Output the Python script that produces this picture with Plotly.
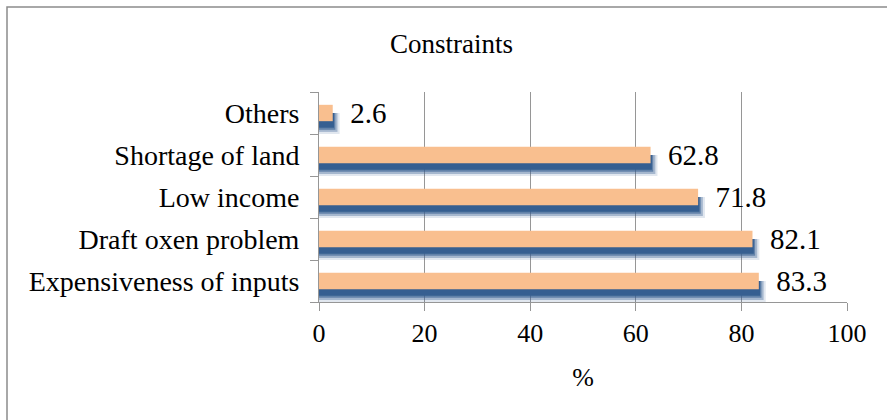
import plotly.graph_objects as go

categories = ["Expensiveness of inputs", "Draft oxen problem", "Low income", "Shortage of land", "Others"]
values = [83.3, 82.1, 71.8, 62.8, 2.6]
x_ticks = [0, 20, 40, 60, 80, 100]

FONT = "Liberation Serif, Times New Roman, serif"
ORANGE = "#F9BF8F"
BLUE = "54,95,145"

fig = go.Figure()

# soft blurred shadow layers (derived from values)
for ext, off, alpha in [(1.3, 0.50, 0.15), (0.9, 0.45, 0.35), (0.5, 0.40, 0.6), (0.25, 0.35, 1.0)]:
    fig.add_trace(go.Bar(
        y=categories, x=[v + ext for v in values], orientation="h",
        marker=dict(color=f"rgba({BLUE},{alpha})", line=dict(width=0)),
        width=off, offset=-off, hoverinfo="skip", showlegend=False))
# main orange bars
fig.add_trace(go.Bar(
    y=categories, x=values, orientation="h",
    marker=dict(color=ORANGE, line=dict(width=0)),
    width=0.39, offset=-0.195,
    text=[f"{v}" for v in values], texttemplate="\u00a0\u00a0%{text}",
    textposition="outside", cliponaxis=False, constraintext="none",
    textfont=dict(family=FONT, size=29, color="black"),
    showlegend=False))

fig.update_layout(
    width=887, height=420,
    margin=dict(l=319, r=40, t=92, b=118),
    paper_bgcolor="white", plot_bgcolor="white",
    barmode="overlay",
    font=dict(family=FONT, color="black"),
    title=dict(text="Constraints", x=(388 + 515) / 2 / 887, xanchor="center",
               y=1 - 44 / 420, yanchor="middle",
               font=dict(family=FONT, size=27, color="black")),
    xaxis=dict(range=[0, 100], tickvals=x_ticks, ticktext=[str(t) for t in x_ticks],
               showgrid=True, gridcolor="#969696", gridwidth=1,
               showline=True, linecolor="#969696", linewidth=1,
               ticks="outside", ticklen=8, tickcolor="#969696",
               tickfont=dict(family=FONT, size=26, color="black"),
               zeroline=False,
               title=dict(text="%", standoff=20,
                          font=dict(family=FONT, size=26, color="black"))),
    yaxis=dict(type="category", categoryorder="array", categoryarray=categories,
               range=[-0.5, 4.5],
               showline=True, linecolor="#969696", linewidth=1,
               ticks="outside", ticklen=8, tickcolor="#969696",
               tickson="boundaries", showgrid=False,
               tickfont=dict(family=FONT, size=28, color="black"),
               ticklabelstandoff=13),
    shapes=[dict(type="rect", xref="paper", yref="paper",
                 x0=(7 - 319) / 528, x1=1.3, y0=-1.0, y1=(302 - 7) / 210,
                 line=dict(color="#8c8c8c", width=1.5), fillcolor="rgba(0,0,0,0)",
                 layer="below")],
)

fig.write_html("out.html")
